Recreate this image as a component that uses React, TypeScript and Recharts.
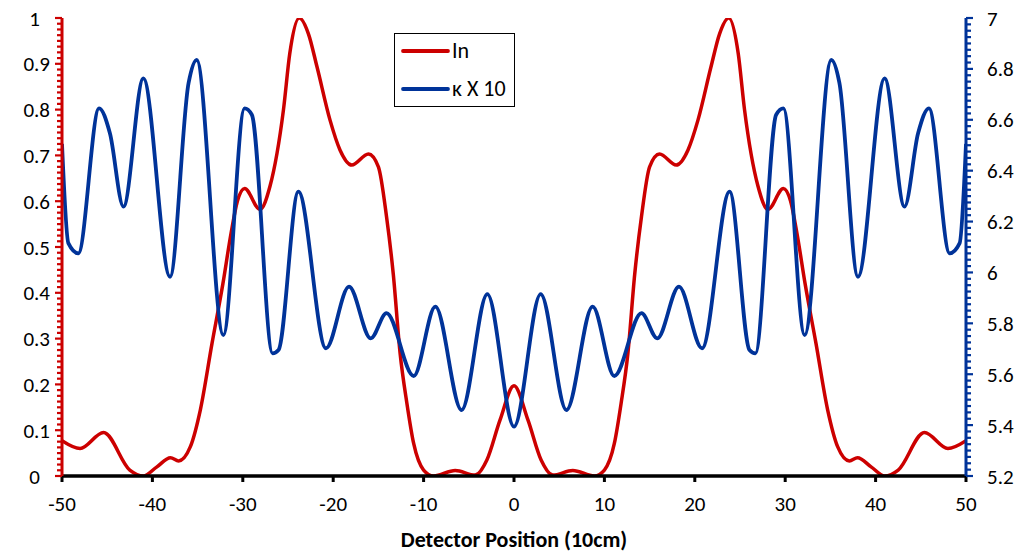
import React from 'react';
import { LineChart, Line, XAxis, YAxis, Legend } from 'recharts';

// ---- data ----
const xIn = [
  -50, -48, -45.4, -42.5, -41, -39.5, -38, -37.1, -35.8, -34.7, -33.4, -32.2, -31.3, -30.6, -29.8,
  -28.1, -27, -25.5, -24.8, -23.75, -22.75, -21.8, -20.35, -19.25, -17.95, -16.1, -15, -14.1, -13.35,
  -12.6, -11.85, -11.1, -10, -8.9, -6.5, -4.3, -3, -1.55, 0,
  1.55, 3, 4.3, 6.5, 8.9, 10, 11.1, 11.85, 12.6, 13.35, 14.1, 15, 16.1, 17.95, 19.25, 20.35, 21.8,
  22.75, 23.75, 24.8, 25.5, 27, 28.1, 29.8, 30.6, 31.3, 32.2, 33.4, 34.7, 35.8, 37.1, 38, 39.5, 41,
  42.5, 45.4, 48, 50,
];
const inValues = [
  0.077, 0.06, 0.095, 0.013, 0.0, 0.02, 0.04, 0.033, 0.064, 0.144, 0.29, 0.42, 0.53, 0.6, 0.628,
  0.582, 0.632, 0.8, 0.923, 1.0, 0.966, 0.894, 0.777, 0.712, 0.679, 0.703, 0.675, 0.566, 0.44,
  0.268, 0.159, 0.071, 0.013, 0.0, 0.012, 0.002, 0.035, 0.122, 0.197,
  0.122, 0.035, 0.002, 0.012, 0.0, 0.013, 0.071, 0.159, 0.268, 0.44, 0.566, 0.675, 0.703, 0.679,
  0.712, 0.777, 0.894, 0.966, 1.0, 0.923, 0.8, 0.632, 0.582, 0.628, 0.6, 0.53, 0.42, 0.29, 0.144,
  0.064, 0.033, 0.04, 0.02, 0.0, 0.013, 0.095, 0.06, 0.077,
];

const xKappa = [
  -50, -49.3, -48.2, -45.9, -44.7, -43.2, -41, -38.05, -36, -35.1, -32.15, -29.8, -29, -26.7, -26.05,
  -23.85, -20.8, -18.25, -15.85, -14.1, -11.1, -8.7, -5.8, -2.95, 0,
  2.95, 5.8, 8.7, 11.1, 14.1, 15.85, 18.25, 20.8, 23.85, 26.05, 26.7, 29, 29.8, 32.15, 35.1, 36,
  38.05, 41, 43.2, 44.7, 45.9, 48.2, 49.3, 50,
];
const kappaValues = [
  6.505, 6.115, 6.075, 6.645, 6.547, 6.259, 6.763, 5.983, 6.744, 6.835, 5.754, 6.645, 6.62, 5.682,
  5.695, 6.318, 5.702, 5.944, 5.741, 5.84, 5.593, 5.866, 5.459, 5.915, 5.394,
  5.915, 5.459, 5.866, 5.593, 5.84, 5.741, 5.944, 5.702, 6.318, 5.695, 5.682, 6.62, 6.645, 5.754,
  6.835, 6.744, 5.983, 6.763, 6.259, 6.547, 6.645, 6.075, 6.115, 6.505,
];

const xTicks = [-50, -40, -30, -20, -10, 0, 10, 20, 30, 40, 50];
const leftTickLabels = ['0', '0.1', '0.2', '0.3', '0.4', '0.5', '0.6', '0.7', '0.8', '0.9', '1'];
const rightTickLabels = ['5.2', '5.4', '5.6', '5.8', '6', '6.2', '6.4', '6.6', '6.8', '7'];
const seriesNames = ['In', 'κ X 10'];

// ---- styling ----
const RED = '#CC0000';
const BLUE = '#003399';
const FONT = "Carlito, Calibri, Lato, 'Open Sans', sans-serif";
const FS = 21;

const inData = xIn.map((x, i) => ({ x, v: inValues[i] }));
const kappaData = xKappa.map((x, i) => ({ x, v: kappaValues[i] }));

// minor tick positions (8 subdivisions per major)
const leftMinor: number[] = [];
for (let i = 0; i <= 80; i++) leftMinor.push(+(i * 0.0125).toFixed(5));
const rightMinor: number[] = [];
for (let i = 0; i <= 72; i++) rightMinor.push(+(5.2 + i * 0.025).toFixed(5));

const LeftTick = (props: any) => {
  const { x, y, payload } = props;
  const k = Math.round(payload.value / 0.0125);
  const major = k % 8 === 0;
  const label = major ? leftTickLabels[k / 8] : '';
  const shift = label.length === 1 ? 22 : 12;
  return (
    <g>
      <line x1={x} x2={x - (major ? 7 : 5)} y1={y} y2={y} stroke={RED} strokeWidth={2.2} />
      {major && (
        <text x={x - shift} y={y} dy="0.36em" textAnchor="end" fontFamily={FONT} fontSize={FS} fill="#000">
          {label}
        </text>
      )}
    </g>
  );
};

const RightTick = (props: any) => {
  const { x, y, payload } = props;
  const k = Math.round((payload.value - 5.2) / 0.025);
  const major = k % 8 === 0;
  return (
    <g>
      <line x1={x} x2={x + (major ? 7 : 5)} y1={y} y2={y} stroke={BLUE} strokeWidth={2.2} />
      {major && (
        <text x={x + 21} y={y} dy="0.36em" textAnchor="start" fontFamily={FONT} fontSize={FS} fill="#000">
          {rightTickLabels[k / 8]}
        </text>
      )}
    </g>
  );
};

const renderLegend = () => (
  <div
    style={{
      position: 'relative',
      width: 121,
      height: 74,
      boxSizing: 'border-box',
      border: '1.3px solid #000',
      background: '#fff',
      fontFamily: FONT,
      fontSize: 22,
      color: '#000',
    }}
  >
    {[RED, BLUE].map((c, i) => (
      <div key={i} style={{ position: 'absolute', left: 0, top: i === 0 ? 3 : 41, height: 28, width: 121 }}>
        <svg width={50} height={28} style={{ position: 'absolute', left: 6, top: 0 }}>
          <line x1={2} x2={47} y1={14} y2={14} stroke={c} strokeWidth={3.8} strokeLinecap="round" />
        </svg>
        <span style={{ position: 'absolute', left: 57, top: 0, lineHeight: '28px', whiteSpace: 'nowrap' }}>
          {seriesNames[i]}
        </span>
      </div>
    ))}
  </div>
);

export default function App() {
  return (
    <div style={{ position: 'absolute', left: 0, top: 0, width: 1023, height: 554, background: '#fff' }}>
      <LineChart width={1023} height={554} margin={{ top: 18, right: 0, bottom: 0, left: 0 }}>
        <XAxis
          dataKey="x"
          type="number"
          domain={[-50, 50]}
          ticks={xTicks}
          allowDataOverflow
          height={78}
          interval={0}
          tickSize={6}
          tickMargin={14}
          axisLine={{ stroke: '#000', strokeWidth: 3.5 }}
          tickLine={{ stroke: '#000', strokeWidth: 3 }}
          tick={{ fontFamily: FONT, fontSize: FS, fill: '#000' }}
          label={{
            value: 'Detector Position (10cm)',
            position: 'insideBottom',
            offset: 7,
            style: { fontFamily: FONT, fontSize: 22, fontWeight: 'bold', fill: '#000' },
          }}
        />
        <YAxis
          yAxisId="left"
          orientation="left"
          type="number"
          domain={[0, 1]}
          ticks={leftMinor}
          interval={0}
          width={62}
          allowDataOverflow
          tickSize={0}
          tickMargin={0}
          tickLine={false}
          axisLine={{ stroke: RED, strokeWidth: 3 }}
          tick={<LeftTick />}
        />
        <YAxis
          yAxisId="right"
          orientation="right"
          type="number"
          domain={[5.2, 7]}
          ticks={rightMinor}
          interval={0}
          width={57}
          allowDataOverflow
          tickSize={0}
          tickMargin={0}
          tickLine={false}
          axisLine={{ stroke: BLUE, strokeWidth: 3 }}
          tick={<RightTick />}
        />
        <Legend
          layout="vertical"
          align="center"
          verticalAlign="middle"
          content={renderLegend}
          wrapperStyle={{ left: 394, top: 33, width: 121, height: 74 }}
        />
        <Line
          yAxisId="left"
          data={inData}
          dataKey="v"
          name={seriesNames[0]}
          type="monotone"
          stroke={RED}
          strokeWidth={3.5}
          dot={false}
          activeDot={false}
          isAnimationActive={false}
        />
        <Line
          yAxisId="right"
          data={kappaData}
          dataKey="v"
          name={seriesNames[1]}
          type="monotone"
          stroke={BLUE}
          strokeWidth={3.8}
          dot={false}
          activeDot={false}
          isAnimationActive={false}
        />
      </LineChart>
    </div>
  );
}
